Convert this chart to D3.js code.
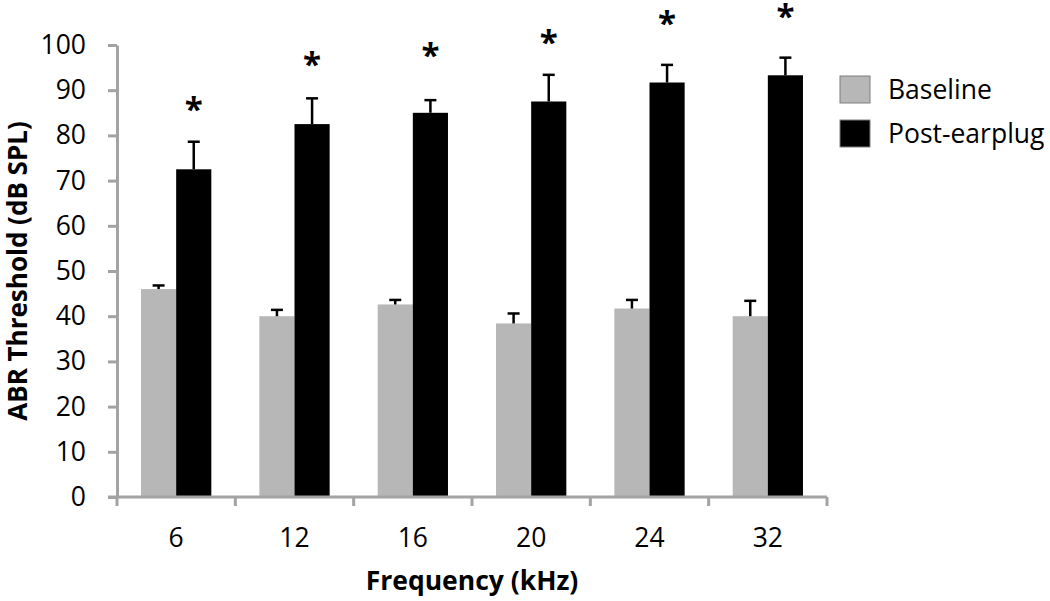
<!DOCTYPE html>
<html>
<head>
<meta charset="utf-8">
<script src="https://cdn.jsdelivr.net/npm/d3@7"></script>
<style>
  html, body { margin: 0; padding: 0; background: #fff; }
  svg { display: block; }
  text { font-family: "Open Sans", "Lato", sans-serif; fill: #000; }
</style>
</head>
<body>
<svg id="chart" width="1050" height="601"></svg>
<script>
// ---- data ----
const categories = ["6", "12", "16", "20", "24", "32"];
const seriesNames = ["Baseline", "Post-earplug"];
const baselineValues = [46.0, 40.0, 42.6, 38.4, 41.7, 40.0];
const baselineErrors = [0.8, 1.4, 1.0, 2.2, 1.9, 3.4];
const postValues = [72.5, 82.5, 85.0, 87.5, 91.7, 93.3];
const postErrors = [6.1, 5.7, 2.8, 5.9, 3.9, 3.9];
const starLevels = [87.2, 97.3, 99.3, 102.2, 106.4, 107.8];
const yTicks = [0, 10, 20, 30, 40, 50, 60, 70, 80, 90, 100];
const xTitle = "Frequency (kHz)";
const yTitle = "ABR Threshold (dB SPL)";

// ---- layout ----
(function () {
const svg = d3.select("#chart");
const pLeft = 117, pRight = 827, pTop = 45, pBottom = 497;
const axisColor = "#a3a3a3";
const fs = "26.5px";
const colors = { "Baseline": "#b7b7b7", "Post-earplug": "#000000" };

const x0 = d3.scaleBand().domain(categories).range([pLeft, pRight]).padding(0);
const bw = x0.bandwidth();
const groupPad = bw * 0.203;
const x1 = d3.scaleBand().domain(seriesNames).range([groupPad, bw - groupPad]).padding(0);
const y = d3.scaleLinear().domain([0, 100]).range([pBottom, pTop]);

const rows = [];
categories.forEach((c, i) => {
  rows.push({ cat: c, s: "Baseline", v: baselineValues[i], e: baselineErrors[i] });
  rows.push({ cat: c, s: "Post-earplug", v: postValues[i], e: postErrors[i] });
});

// bars
svg.append("g").selectAll("rect").data(rows).join("rect")
  .attr("x", d => x0(d.cat) + x1(d.s))
  .attr("y", d => y(d.v))
  .attr("width", x1.bandwidth())
  .attr("height", d => y(0) - y(d.v))
  .attr("fill", d => colors[d.s]);

// error bars (upper only)
const eg = svg.append("g").attr("stroke", "#000").attr("stroke-width", 2.5);
rows.forEach(d => {
  const cx = x0(d.cat) + x1(d.s) + x1.bandwidth() / 2;
  eg.append("line").attr("x1", cx).attr("x2", cx).attr("y1", y(d.v)).attr("y2", y(d.v + d.e));
  eg.append("line").attr("x1", cx - 6).attr("x2", cx + 6).attr("y1", y(d.v + d.e)).attr("y2", y(d.v + d.e));
});

// stars
svg.append("g").selectAll("text").data(categories).join("text")
  .attr("x", c => x0(c) + x1("Post-earplug") + x1.bandwidth() / 2)
  .attr("y", (c, i) => y(starLevels[i]))
  .attr("dy", "0.56em")
  .attr("text-anchor", "middle")
  .style("font-size", "33px")
  .style("font-weight", "bold")
  .text("*");

// y axis
const yAxis = d3.axisLeft(y).tickValues(yTicks).tickSize(9).tickPadding(22).tickSizeOuter(0);
const gy = svg.append("g").attr("transform", `translate(${pLeft},0)`).call(yAxis);
gy.select(".domain").attr("stroke", axisColor).attr("stroke-width", 3);
gy.selectAll(".tick line").attr("stroke", axisColor).attr("stroke-width", 3);
gy.selectAll(".tick text").style("font-size", fs).attr("fill", "#000");

// x axis
const gx = svg.append("g").attr("transform", `translate(0,${pBottom})`);
gx.append("line").attr("x1", pLeft - 9).attr("x2", pRight).attr("y1", 0).attr("y2", 0)
  .attr("stroke", axisColor).attr("stroke-width", 3);
const bounds = categories.map(c => x0(c)).concat([pRight]);
gx.selectAll("line.b").data(bounds).join("line").attr("class", "b")
  .attr("x1", d => d).attr("x2", d => d).attr("y1", 0).attr("y2", 9)
  .attr("stroke", axisColor).attr("stroke-width", 3);
gx.selectAll("text").data(categories).join("text")
  .attr("x", c => x0(c) + bw / 2)
  .attr("y", 50)
  .attr("text-anchor", "middle")
  .style("font-size", fs)
  .text(c => c);

// titles
svg.append("text").attr("x", (pLeft + pRight) / 2).attr("y", 590)
  .attr("text-anchor", "middle").style("font-size", fs).style("font-weight", "bold")
  .text(xTitle);
svg.append("text").attr("transform", `translate(27,${(pTop + pBottom) / 2}) rotate(-90)`)
  .attr("text-anchor", "middle").style("font-size", "26px").style("font-weight", "bold")
  .text(yTitle);

// legend
const lg = svg.append("g").attr("transform", "translate(840,76)");
seriesNames.forEach((s, i) => {
  lg.append("rect").attr("x", 0).attr("y", i * 44).attr("width", 30).attr("height", 27)
    .attr("fill", colors[s]).attr("stroke", "#7f7f7f").attr("stroke-width", 1);
  lg.append("text").attr("x", 48).attr("y", i * 44 + 23).style("font-size", fs).text(s);
});
})();
</script>
</body>
</html>
